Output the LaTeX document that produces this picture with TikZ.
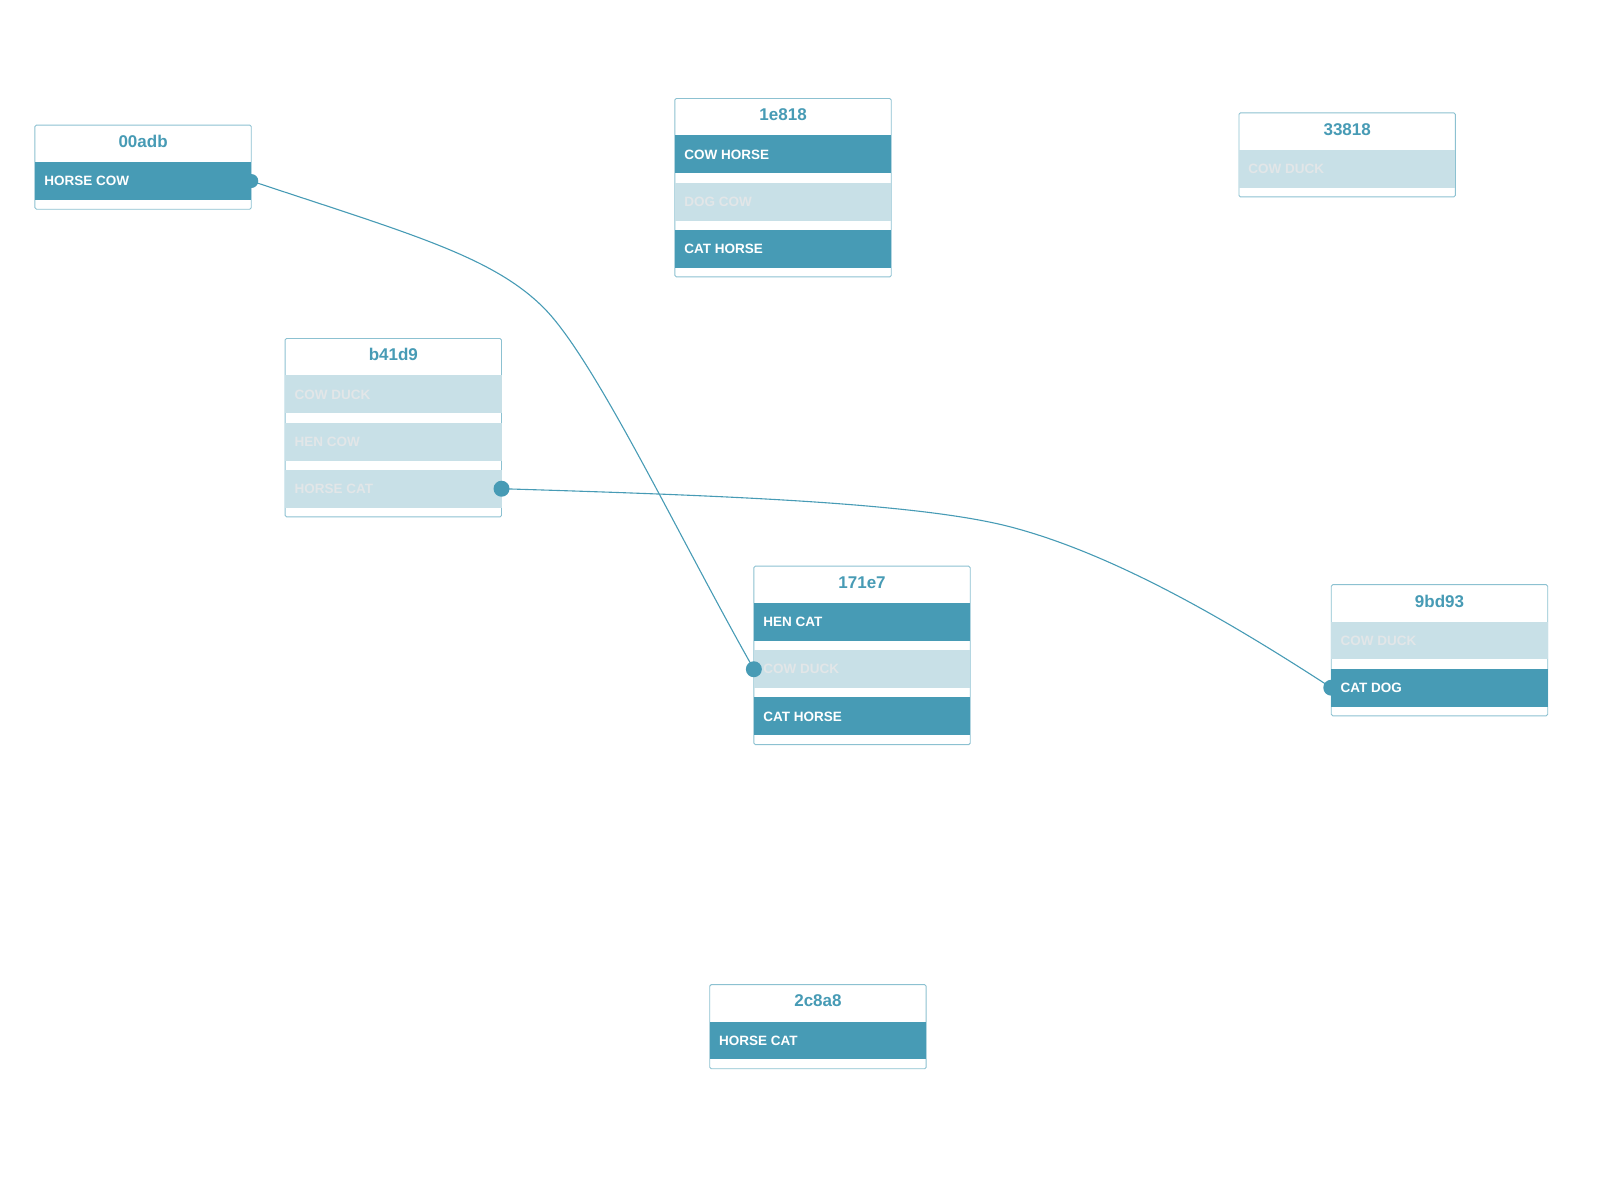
\documentclass[tikz,border=0pt]{standalone}
\usepackage{fontspec}
\setmainfont{Liberation Sans}
\definecolor{dk}{HTML}{479BB5}
\definecolor{lt}{HTML}{C8E0E7}
\definecolor{ltx}{HTML}{E2E6E8}
\definecolor{bd}{HTML}{8CC1D1}
\tikzset{
 boxframe/.style={draw=bd,line width=0.9pt,fill=white,rounded corners=1.5pt},
 ttl/.style={text=dk,font=\bfseries\fontsize{17}{17}\selectfont,anchor=center},
 rowdark/.style={fill=dk,text=white},
 rowlight/.style={fill=lt,text=ltx},
 rowtxt/.style={font=\bfseries\fontsize{13.5}{13.5}\selectfont,anchor=west,inner sep=0pt},
 conn/.style={draw=dk,line width=1.1pt},
 dot/.style={circle,fill=dk,inner sep=0pt,minimum size=16pt},
}
\newcommand{\ubox}[5]{% name, x, y, nrows, list
 \draw[boxframe] (#2,#3) rectangle ++(211,{36+#4*46-9+9});
 \node[ttl] (#1t) at ({#2+105.5},{#3+16}) {#1};
}
\newcommand{\urow}[6]{% name, x, y(top of box), index, style, text
 \fill[#5] (#2,{#3+36+#4*46}) rectangle ++(211,37);
 \node[rowtxt,#5,fill=none] (#1) at ({#2+9},{#3+36+#4*46+18.5}) {#6};
 \coordinate (#1L) at (#2,{#3+36+#4*46+18.5});
 \coordinate (#1R) at ({#2+211},{#3+36+#4*46+18.5});
}
\begin{document}
\begin{tikzpicture}[x=1.0256pt,y=-1.0256pt]
\useasboundingbox (0,0) rectangle (1560,1170);
% 00adb
\ubox{00adb}{34}{122}{1}{}
\urow{a1}{34}{122}{0}{rowdark}{HORSE COW}
% 1e818
\ubox{1e818}{658}{96}{3}{}
\urow{b1}{658}{96}{0}{rowdark}{COW HORSE}
\urow{b2}{658}{96}{1}{rowlight}{DOG COW}
\urow{b3}{658}{96}{2}{rowdark}{CAT HORSE}
% 33818
\ubox{33818}{1208}{110}{1}{}
\urow{c1}{1208}{110}{0}{rowlight}{COW DUCK}
% b41d9
\ubox{b41d9}{278}{330}{3}{}
\urow{d1}{278}{330}{0}{rowlight}{COW DUCK}
\urow{d2}{278}{330}{1}{rowlight}{HEN COW}
\urow{d3}{278}{330}{2}{rowlight}{HORSE CAT}
% 171e7
\ubox{171e7}{735}{552}{3}{}
\urow{e1}{735}{552}{0}{rowdark}{HEN CAT}
\urow{e2}{735}{552}{1}{rowlight}{COW DUCK}
\urow{e3}{735}{552}{2}{rowdark}{CAT HORSE}
% 9bd93
\ubox{9bd93}{1298}{570}{2}{}
\urow{f1}{1298}{570}{0}{rowlight}{COW DUCK}
\urow{f2}{1298}{570}{1}{rowdark}{CAT DOG}
% 2c8a8
\ubox{2c8a8}{692}{960}{1}{}
\urow{g1}{692}{960}{0}{rowdark}{HORSE CAT}
% connectors
\draw[conn] (a1R) .. controls (400,228) and (480,250) .. (530,300) .. controls (580,350) and (660,520) .. (e2L);
\draw[conn] (d3R) .. controls (700,483) and (900,490) .. (990,515) .. controls (1100,545) and (1220,620) .. (f2L);
\node[dot,minimum size=14pt] (p1) at (a1R) {};
\fill[dk] (34,{122+36}) rectangle ++(211,37);
\node[rowtxt,text=white] at (43,{122+54.5}) {HORSE COW};
\node[dot] (p2) at (d3R) {};
\node[dot] (p3) at (e2L) {};
\node[dot] (p4) at (f2L) {};
\fill[dk] (1298,{570+82}) rectangle ++(211,37);
\node[rowtxt,text=white] at (1307,{570+100.5}) {CAT DOG};
\end{tikzpicture}
\end{document}
